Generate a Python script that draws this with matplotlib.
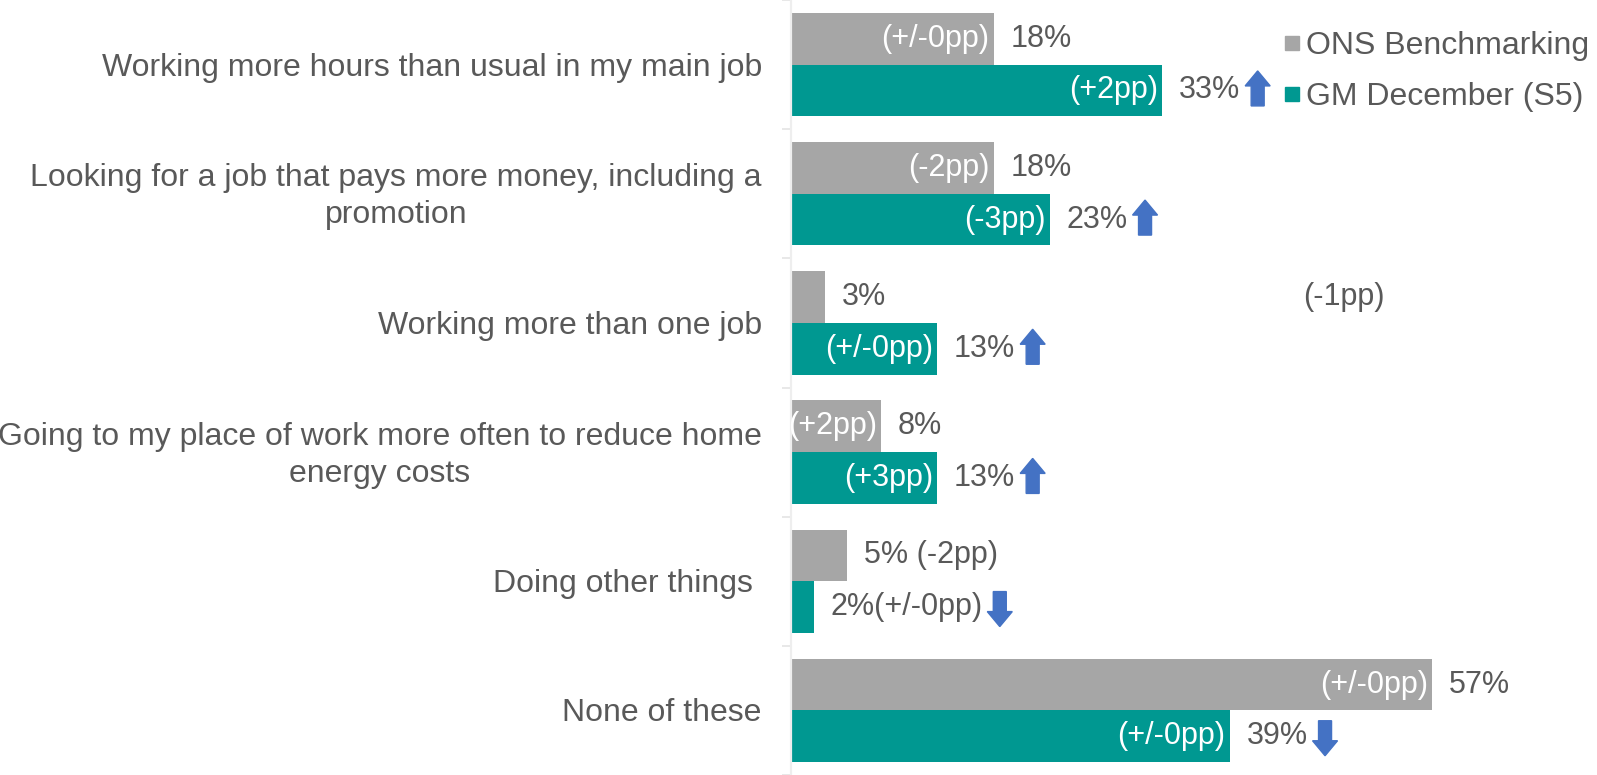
import matplotlib
matplotlib.use("Agg")
import matplotlib.pyplot as plt
from matplotlib.lines import Line2D
from matplotlib.patches import Polygon
from matplotlib.transforms import IdentityTransform
import numpy as np

plt.rcParams["font.family"] = ["Liberation Sans", "DejaVu Sans"]

GREY, TEAL, TXT, ARROW = "#A6A6A6", "#009891", "#595959", "#4472C4"

categories = [
    "Working more hours than usual in my main job",
    "Looking for a job that pays more money, including a\npromotion",
    "Working more than one job",
    "Going to my place of work more often to reduce home\nenergy costs",
    "Doing other things ",
    "None of these",
]
series = ["ONS Benchmarking", "GM December (S5)"]
ons = [18, 18, 3, 8, 5, 57]
gm = [33, 23, 13, 13, 2, 39]
ons_change = ["(+/-0pp)", "(-2pp)", "", "(+2pp)", "(-2pp)", "(+/-0pp)"]
gm_change = ["(+2pp)", "(-3pp)", "(+/-0pp)", "(+3pp)", "(+/-0pp)", "(+/-0pp)"]
gm_trend = ["up", "up", "up", "up", "down", "down"]
stray_label = "(-1pp)"

W, H, DPI = 1597, 775, 100
fig = plt.figure(figsize=(W / DPI, H / DPI), dpi=DPI)
ax = fig.add_axes([791 / W, 0, 1 - 791 / W, 1])

y = np.arange(len(categories))
bh = 0.4
ax.barh(y - bh / 2, ons, height=bh, color=GREY)
ax.barh(y + bh / 2, gm, height=bh, color=TEAL)

FS_CAT, FS = 23, 22
ax.set_xlim(0, (W - 791) / 11.25)
ax.set_ylim(len(categories) - 0.5, -0.5)
ax.set_xticks([])
ax.set_yticks([])
ax.set_yticks(np.arange(len(categories) + 1) - 0.5, minor=True)
ax.tick_params(axis="y", which="minor", length=6.5, width=1.2, color="#E4E4E4")
for s in ["top", "right", "bottom"]:
    ax.spines[s].set_visible(False)
ax.spines["left"].set_color("#EEEEEE")
ax.spines["left"].set_linewidth(1.6)

# category names, right-aligned against the axis, centred line by line
for yy, cat in zip(y, categories):
    ax.annotate(cat, (0, yy), xycoords=("axes fraction", "data"),
                xytext=(-21, -2.2), textcoords="offset points",
                ha="right", va="center", multialignment="center",
                linespacing=1.3, fontsize=FS_CAT, color=TXT)

value_texts = []
for rows, vals, changes, off, sep in [(y - bh / 2, ons, ons_change, 0, " "),
                                      (y + bh / 2, gm, gm_change, 1, "")]:
    for yy, v, c in zip(rows, vals, changes):
        if c and v >= 8:
            ax.annotate(c, (v, yy), xytext=(-3, 0), textcoords="offset points",
                        ha="right", va="center", color="white", fontsize=FS)
            lab = f"{v}%"
        else:
            lab = f"{v}%" + (sep + c if c else "")
        t = ax.annotate(lab, (v, yy), xytext=(12, 0), textcoords="offset points",
                        ha="left", va="center", color=TXT, fontsize=FS)
        if off == 1:
            value_texts.append(t)

ax.text(45.5, y[2] - bh / 2, stray_label, ha="left", va="center",
        color=TXT, fontsize=FS)

handles = [Line2D([], [], ls="", marker="s", ms=10.5, color=GREY),
           Line2D([], [], ls="", marker="s", ms=10.5, color=TEAL)]
fig.legend(handles, series, loc="upper right",
           bbox_to_anchor=(1 + 14 / W, 1 - 9 / H),
           frameon=False, fontsize=FS_CAT, labelcolor=TXT, handlelength=0.6,
           handletextpad=0.12, labelspacing=0.64, borderaxespad=0.3)

# block arrows just after the GM value labels
fig.canvas.draw()
r = fig.canvas.get_renderer()
aw, ah, sw, hh = 25, 35, 13, 15
for t, d in zip(value_texts, gm_trend):
    bb = t.get_window_extent(r)
    x0 = bb.x1 + 5
    cy = (bb.y0 + bb.y1) / 2
    xc = x0 + aw / 2
    if d == "up":
        cy += 2
        top, bot = cy + ah / 2, cy - ah / 2
        pts = [(xc, top), (x0 + aw, top - hh), (xc + sw / 2, top - hh),
               (xc + sw / 2, bot), (xc - sw / 2, bot), (xc - sw / 2, top - hh),
               (x0, top - hh)]
    else:
        cy -= 2
        top, bot = cy + ah / 2, cy - ah / 2
        pts = [(xc, bot), (x0 + aw, bot + hh), (xc + sw / 2, bot + hh),
               (xc + sw / 2, top), (xc - sw / 2, top), (xc - sw / 2, bot + hh),
               (x0, bot + hh)]
    fig.patches.append(Polygon(pts, closed=True, color=ARROW,
                               transform=IdentityTransform(), figure=fig))

fig.savefig("out.png", dpi=DPI)
